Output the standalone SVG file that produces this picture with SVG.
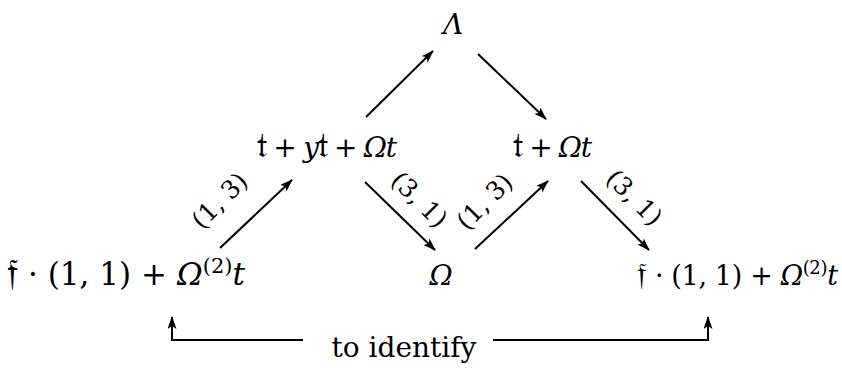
<svg xmlns="http://www.w3.org/2000/svg" width="842" height="372" viewBox="0 0 842 372">
<style>
text{font-family:'DejaVu Serif','Liberation Serif',serif;fill:#000}
.m{font-size:28px}
.i{font-style:italic}
.fk{font-family:'DejaVu Serif','DejaVu Sans',serif;font-style:normal;font-size:1.2em}
.lab{font-size:25px}
.e{stroke:#000;stroke-width:2;fill:none}
</style>
<defs>
<marker id="ah" viewBox="0 0 13 9" refX="12" refY="4.5" markerWidth="13" markerHeight="9" markerUnits="userSpaceOnUse" orient="auto">
<path d="M0,0 L13,4.5 L0,9 L3,4.5 Z" fill="#000"/>
</marker>
</defs>
<rect width="842" height="372" fill="#fff"/>
<g id="lambda"><text class="m i" x="443" y="34">Λ</text></g>
<g id="n1"><text class="m" x="257" y="157" textLength="140" lengthAdjust="spacing"><tspan class="fk">𝔱</tspan> + <tspan class="i">y</tspan><tspan class="fk">𝔱</tspan> + <tspan class="i">Ωt</tspan></text></g>
<g id="n2"><text class="m" x="513" y="157" textLength="79" lengthAdjust="spacing"><tspan class="fk">𝔱</tspan> + <tspan class="i">Ωt</tspan></text></g>
<g id="n3"><text class="m" x="7" y="285" style="font-size:31px" textLength="238" lengthAdjust="spacing"><tspan class="fk">𝔣</tspan> · (1, 1) + <tspan class="i">Ω</tspan><tspan dy="-12" style="font-size:21px">(2)</tspan><tspan dy="12" class="i">t</tspan></text></g>
<g id="omega"><text class="m i" x="441" y="285" text-anchor="middle">Ω</text></g>
<g id="n4"><text class="m" x="637" y="285" style="font-size:27px" textLength="201" lengthAdjust="spacing"><tspan class="fk">𝔣</tspan> · (1, 1) + <tspan class="i">Ω</tspan><tspan dy="-11" style="font-size:18px">(2)</tspan><tspan dy="11" class="i">t</tspan></text></g>
<g id="connectors">
<line class="e" x1="366" y1="117" x2="433" y2="51" marker-end="url(#ah)"/>
<line class="e" x1="478" y1="54" x2="546" y2="119" marker-end="url(#ah)"/>
<line class="e" x1="220" y1="248" x2="292" y2="180" marker-end="url(#ah)"/>
<line class="e" x1="365" y1="182" x2="435" y2="250" marker-end="url(#ah)"/>
<line class="e" x1="475" y1="249" x2="548" y2="181" marker-end="url(#ah)"/>
<line class="e" x1="581" y1="181" x2="649" y2="250" marker-end="url(#ah)"/>
<polyline class="e" points="303,340 172,340 172,317" marker-end="url(#ah)"/>
<polyline class="e" points="493,340 708,340 708,317" marker-end="url(#ah)"/>
<text class="lab" transform="translate(220,201) rotate(-45)" text-anchor="middle" dy="8">(1, 3)</text>
<text class="lab" transform="translate(419,200) rotate(45)" text-anchor="middle" dy="8">(3, 1)</text>
<text class="lab" transform="translate(485,202) rotate(-45)" text-anchor="middle" dy="8">(1, 3)</text>
<text class="lab" transform="translate(634,198) rotate(45)" text-anchor="middle" dy="8">(3, 1)</text>
<text class="m" x="404" y="357" text-anchor="middle" style="font-size:28px">to identify</text>
</g>
</svg>
